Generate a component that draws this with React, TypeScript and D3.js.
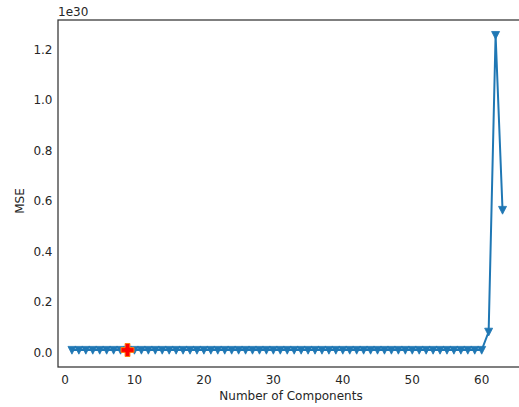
import React, { useEffect, useRef } from 'react';
import * as d3 from 'd3';

// number of components tried (1..63)
const components: number[] = [
  1, 2, 3, 4, 5, 6, 7, 8, 9, 10, 11, 12, 13, 14, 15, 16, 17, 18, 19, 20,
  21, 22, 23, 24, 25, 26, 27, 28, 29, 30, 31, 32, 33, 34, 35, 36, 37, 38, 39, 40,
  41, 42, 43, 44, 45, 46, 47, 48, 49, 50, 51, 52, 53, 54, 55, 56, 57, 58, 59, 60,
  61, 62, 63,
];

// MSE in units of 1e30
const mse: number[] = [
  0, 0, 0, 0, 0, 0, 0, 0, 0, 0, 0, 0, 0, 0, 0, 0, 0, 0, 0, 0,
  0, 0, 0, 0, 0, 0, 0, 0, 0, 0, 0, 0, 0, 0, 0, 0, 0, 0, 0, 0,
  0, 0, 0, 0, 0, 0, 0, 0, 0, 0, 0, 0, 0, 0, 0, 0, 0, 0, 0, 0,
  0.072, 1.246, 0.554,
];

const best = { n: 9, mse: 0 };

const xTicks = [0, 10, 20, 30, 40, 50, 60];
const yTicks = [0.0, 0.2, 0.4, 0.6, 0.8, 1.0, 1.2];

const W = 519;
const H = 407;
const left = 58;
const right = 524; // right spine falls outside the picture
const top = 20;
const bottom = 367;
const textColor = '#262626';
const font = 'DejaVu Sans, sans-serif';

const MseChart = () => {
  const svgRef = useRef<SVGSVGElement>(null);

  useEffect(() => {
    document.body.style.margin = '0';
    document.body.style.overflow = 'hidden';

    const svg = d3.select(svgRef.current);
    svg.selectAll('*').remove();

    const x = d3.scaleLinear().domain([0, 60]).range([65, 481.7]);
    const y = d3.scaleLinear().domain([0, 1.2]).range([350, 46.7]);

    // frame
    svg.append('rect')
      .attr('x', left).attr('y', top)
      .attr('width', right - left).attr('height', bottom - top)
      .attr('fill', 'white')
      .attr('stroke', '#333333')
      .attr('stroke-width', 1.25);

    // tick labels
    svg.selectAll('text.xt')
      .data(xTicks)
      .enter().append('text')
      .attr('class', 'xt')
      .attr('x', d => x(d))
      .attr('y', 383.5)
      .attr('text-anchor', 'middle')
      .style('font-family', font)
      .style('font-size', '12px')
      .attr('fill', textColor)
      .text(d => d);

    svg.selectAll('text.yt')
      .data(yTicks)
      .enter().append('text')
      .attr('class', 'yt')
      .attr('x', 52.5)
      .attr('y', d => y(d) + 6.9)
      .attr('text-anchor', 'end')
      .style('font-family', font)
      .style('font-size', '12px')
      .attr('fill', textColor)
      .text(d => d.toFixed(1));

    // offset text
    svg.append('text')
      .attr('x', 58).attr('y', 16)
      .style('font-family', font)
      .style('font-size', '12px')
      .attr('fill', textColor)
      .text('1e30');

    // axis labels
    svg.append('text')
      .attr('x', 291).attr('y', 400)
      .attr('text-anchor', 'middle')
      .style('font-family', font)
      .style('font-size', '12px')
      .attr('fill', textColor)
      .text('Number of Components');

    svg.append('text')
      .attr('transform', `translate(24,201) rotate(-90)`)
      .attr('text-anchor', 'middle')
      .style('font-family', font)
      .style('font-size', '12px')
      .attr('fill', textColor)
      .text('MSE');

    const pts = components.map((c, i) => [c, mse[i]] as [number, number]);

    const line = d3.line<[number, number]>()
      .x(d => x(d[0]))
      .y(d => y(d[1]));

    const g = svg.append('g');
    g.append('path')
      .datum(pts)
      .attr('d', line)
      .attr('fill', 'none')
      .attr('stroke', '#1f77b4')
      .attr('stroke-width', 2);

    const tri = 'M-4,-3.6L4,-3.6L0,4.2Z';
    g.selectAll('path.mk')
      .data(pts)
      .enter().append('path')
      .attr('class', 'mk')
      .attr('d', tri)
      .attr('transform', d => `translate(${x(d[0])},${y(d[1])})`)
      .attr('fill', '#1f77b4')
      .attr('stroke', '#1f77b4')
      .attr('stroke-width', 0.8);

    // best point
    const s = 6.5, t = 2.4;
    const plus = `M${-t},${-s}H${t}V${-t}H${s}V${t}H${t}V${s}H${-t}V${t}H${-s}V${-t}H${-t}Z`;
    g.append('path')
      .attr('d', plus)
      .attr('transform', `translate(${x(best.n)},${y(best.mse)})`)
      .attr('fill', '#ff0000')
      .attr('stroke', '#ff7f0e')
      .attr('stroke-width', 1);
  }, []);

  return (
    <svg
      ref={svgRef}
      width={W}
      height={H}
      style={{ display: 'block', position: 'absolute', left: 0, top: 0 }}
    />
  );
};

export default function App() {
  return <MseChart />;
}
